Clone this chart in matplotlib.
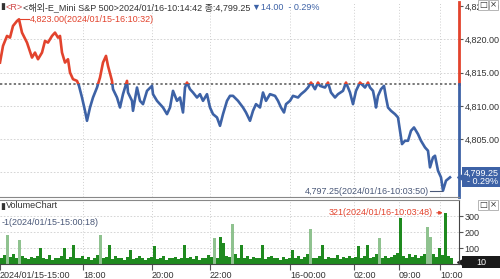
import numpy as np
import matplotlib
matplotlib.use('Agg')
import matplotlib.pyplot as plt
from matplotlib.patches import Rectangle

plt.rcParams['font.family'] = ['Liberation Sans Narrow', 'Liberation Sans', 'Noto Sans CJK KR', 'DejaVu Sans']

# Price ticks (bar index, price)
bar_idx = [0, 3, 7, 10, 13, 17, 19, 22, 27, 32, 35, 38, 42, 45, 48, 52, 55, 58, 60, 62,
           65, 68, 70, 73, 77, 79, 82, 85, 87, 90, 93, 97, 100, 103, 106, 108, 112, 113, 117, 120,
           123, 127, 128, 132, 133, 137, 140, 143, 147, 152, 153, 157, 160, 163, 167, 170, 173, 177, 180, 183,
           185, 187, 190, 193, 197, 200, 203, 207, 210, 213, 217, 220, 223, 227, 230, 233, 238, 243, 246, 250,
           253, 256, 260, 263, 266, 270, 275, 278, 281, 284, 286, 290, 293, 298, 301, 305, 308, 311, 315, 318,
           320, 325, 328, 331, 335, 338, 343, 346, 350, 353, 356, 360, 365, 368, 370, 373, 375, 376, 378, 381,
           384, 386, 388, 391, 395, 398, 401, 402, 405, 408, 411, 414, 418, 421, 425, 428, 430, 433, 435, 438,
           441, 443, 446, 450]
prices = [4816.50, 4819.00, 4820.50, 4820.25, 4822.00, 4822.75, 4823.00, 4821.00, 4819.50, 4817.25,
          4818.00, 4817.00, 4818.00, 4819.75, 4819.50, 4820.50, 4821.00, 4820.25, 4820.50, 4818.00,
          4816.50, 4817.00, 4815.00, 4814.00, 4813.75, 4813.00, 4811.25, 4809.25, 4807.75, 4809.75,
          4811.25, 4812.75, 4814.25, 4816.50, 4817.50, 4816.00, 4813.75, 4812.50, 4811.25, 4809.75,
          4811.75, 4813.75, 4812.00, 4810.75, 4809.25, 4812.75, 4810.75, 4810.25, 4812.25, 4813.00,
          4811.75, 4810.75, 4810.25, 4809.75, 4808.75, 4809.75, 4812.25, 4810.75, 4811.25, 4809.00,
          4812.75, 4813.50, 4812.50, 4812.00, 4811.25, 4811.75, 4810.75, 4811.75, 4809.75, 4808.75,
          4808.25, 4807.00, 4808.75, 4810.75, 4811.50, 4811.50, 4810.75, 4809.75, 4809.00, 4807.75,
          4809.25, 4810.25, 4809.75, 4812.00, 4810.75, 4811.75, 4811.50, 4810.75, 4809.75, 4809.00,
          4810.25, 4810.75, 4811.50, 4811.25, 4811.75, 4812.25, 4812.75, 4813.50, 4812.50, 4813.50,
          4813.00, 4812.75, 4813.50, 4812.00, 4811.25, 4811.75, 4812.25, 4813.50, 4812.00, 4810.25,
          4812.25, 4813.50, 4812.75, 4813.50, 4812.75, 4812.25, 4810.75, 4809.75, 4811.50, 4812.50,
          4813.00, 4811.25, 4809.75, 4809.25, 4808.75, 4808.25, 4805.25, 4804.25, 4804.75, 4804.75,
          4806.25, 4806.75, 4805.75, 4804.75, 4803.75, 4803.25, 4800.75, 4802.25, 4802.50, 4800.25,
          4799.25, 4797.25, 4798.75, 4799.25]
prev_close = 4813.25

# Volume (one bar every 3 ticks)
volume = [40, 55, 180, 45, 60, 35, 150, 50, 40, 30,
          45, 35, 50, 100, 40, 30, 55, 25, 40, 35,
          50, 100, 30, 45, 120, 40, 35, 50, 30, 45,
          25, 40, 55, 180, 35, 45, 120, 30, 50, 40,
          35, 25, 45, 90, 30, 40, 50, 35, 25, 40,
          45, 110, 30, 35, 50, 25, 40, 35, 45, 30,
          40, 120, 35, 45, 30, 50, 25, 40, 35, 55,
          45, 160, 40, 170, 130, 50, 45, 250, 60, 40,
          120, 35, 50, 30, 45, 40, 35, 120, 30, 45,
          50, 35, 40, 25, 45, 30, 40, 90, 35, 50,
          30, 45, 60, 220, 40, 35, 50, 120, 30, 45,
          40, 35, 55, 30, 45, 40, 50, 35, 45, 110,
          40, 50, 120, 35, 45, 60, 160, 40, 50, 35,
          45, 55, 70, 290, 50, 40, 60, 45, 55, 40,
          50, 65, 230, 170, 60, 45, 100, 55, 321, 50,
          40]
vol_light = [2, 6, 33, 71, 77, 103, 126, 142, 143]
vol_last = 10

time_pos = [0, 83, 152, 210, 290, 354, 399, 440]
time_lbl = ['2024/01/15-15:00', '18:00', '20:00', '22:00', '16-00:00', '02:00', '09:00', '10:00']
price_ticks = [4805, 4810, 4815, 4820, 4825]
vol_ticks = [100, 200, 300]

RED = '#e2432d'
BLUE = '#3d62a6'
GRID = '#cfcfcf'
TXT = '#333333'
FS = 6.5

W, H = 500, 279
fig = plt.figure(figsize=(W / 100, H / 100), dpi=100)
ax = fig.add_axes([0, 1 - 197 / H, 459 / W, 195 / H])
ax2 = fig.add_axes([0, 1 - 264 / H, 459 / W, 64 / H])

# ---- price panel
ax.set_xlim(0, 459)
ax.set_ylim(4796.3, 4825.6)
for p in [4800, 4805, 4810, 4815, 4820]:
    ax.axhline(p, color=GRID, lw=0.6, dashes=(2, 2), zorder=0)
for t in time_pos[1:]:
    ax.axvline(t, color=GRID, lw=0.7, dashes=(1, 2), zorder=0)
ax.axhline(prev_close, color='#555555', lw=1.1, dashes=(1.5, 1.5), zorder=1)

line_r, = ax.plot(bar_idx, prices, color=RED, lw=1.9, zorder=2)
line_b, = ax.plot(bar_idx, prices, color=BLUE, lw=1.9, zorder=2)
line_r.set_clip_path(Rectangle((-50, prev_close), 600, 100, transform=ax.transData))
line_b.set_clip_path(Rectangle((-50, prev_close - 100), 600, 100, transform=ax.transData))

for s in ['left', 'top', 'right']:
    ax.spines[s].set_visible(False)
ax.spines['bottom'].set_color('#888888')
yt = ax.get_yaxis_transform()
ax.plot([1, 1], [prev_close, 4825.6], color=RED, lw=2, transform=yt, clip_on=False)
ax.plot([1, 1], [4796.3, prev_close], color=BLUE, lw=2, transform=yt, clip_on=False)

ax.set_xticks([])
ax.yaxis.tick_right()
ax.set_yticks(price_ticks)
ax.set_yticklabels([f'{p:,.2f}' for p in price_ticks])
ax.tick_params(axis='y', direction='out', length=3, width=0.8, color='#555555',
               labelsize=FS, labelcolor=TXT, pad=1)

# max / min annotations
i_max = int(np.argmax(prices))
i_min = int(np.argmin(prices))
ax.plot([bar_idx[i_max] + 1, bar_idx[i_max] + 10], [prices[i_max]] * 2, color=RED, lw=0.8)
ax.text(bar_idx[i_max] + 11, prices[i_max], f'{prices[i_max]:,.2f}(2024/01/15-16:10:32)',
        color=RED, fontsize=FS, va='center', ha='left')
ax.plot([bar_idx[i_min] - 13, bar_idx[i_min] - 1], [prices[i_min]] * 2, color='#4a5878', lw=0.8)
ax.text(bar_idx[i_min] - 14, prices[i_min] - 0.1, f'{prices[i_min]:,.2f}(2024/01/16-10:03:50)',
        color='#4a5878', fontsize=FS, va='center', ha='right')

# current price tag
last = prices[-1]
ax.plot([1.004], [last], marker='<', ms=6, color=BLUE, transform=yt, clip_on=False)
ax.add_patch(Rectangle((1.007, last - 1.5), 0.09, 3.0, transform=yt, fc=BLUE, ec='none',
                       clip_on=False))
ax.text(1.048, last, f'{last:,.2f}\n- 0.29%', transform=yt, color='white', fontsize=FS,
        va='center', ha='center', multialignment='right', linespacing=0.95)

# ---- volume panel
x_vol = np.arange(len(volume)) * 3
colors = ['#8fc28f' if i in vol_light else '#1f8a1f' for i in range(len(volume))]
ax2.bar(x_vol, volume, width=3, color=colors, linewidth=0, align='edge', zorder=2)
ax2.set_xlim(0, 459)
ax2.set_ylim(0, 400)
for v in vol_ticks:
    ax2.axhline(v, color=GRID, lw=0.6, dashes=(2, 2), zorder=0)
for t in time_pos[1:]:
    ax2.axvline(t, color=GRID, lw=0.7, dashes=(1, 2), zorder=0)
ax2.spines['left'].set_visible(False)
ax2.spines['top'].set_color('#888888')
ax2.spines['right'].set_color('#444444')
ax2.spines['bottom'].set_color('#444444')
ax2.yaxis.tick_right()
ax2.set_yticks(vol_ticks)
ax2.tick_params(axis='y', direction='out', length=3, width=0.8, color='#555555',
                labelsize=FS, labelcolor=TXT, pad=1)
ax2.set_xticks(time_pos)
ax2.set_xticklabels(time_lbl, ha='left')
ax2.tick_params(axis='x', direction='out', length=4, width=0.8, color='#555555',
                labelsize=FS, labelcolor=TXT, pad=1)

j_max = int(np.argmax(volume))
ax2.annotate('', xy=(x_vol[j_max] + 1.5, 320), xytext=(x_vol[j_max] - 10, 320),
             arrowprops=dict(arrowstyle='-|>', color=RED, lw=0.8, mutation_scale=5))
ax2.text(x_vol[j_max] - 11, 320, f'{volume[j_max]}(2024/01/16-10:03:48)', color=RED,
         fontsize=FS, va='center', ha='right')
ax2.text(2, 262, '-1(2024/01/15-15:00:18)', color='#4a5878', fontsize=FS, va='center', ha='left')

yt2 = ax2.get_yaxis_transform()
ax2.plot([1.004], [vol_last], marker='<', ms=6, color='#1a1a1a', transform=yt2, clip_on=False)
ax2.add_patch(Rectangle((1.007, vol_last - 38), 0.09, 76, transform=yt2, fc='#1a1a1a',
                        ec='none', clip_on=False))
ax2.text(1.048, vol_last, f'{vol_last}', transform=yt2, color='white', fontsize=FS,
         va='center', ha='center')

# ---- header texts
def ftext(px, py, s, size=FS, **kw):
    return fig.text(px / W, 1 - py / H, s, va='center', ha='left', fontsize=size, **kw)

ftext(0, 7, '▮', color=TXT, family=['DejaVu Sans'])
ftext(6, 7, '<R>', color='#d04a4a')
ftext(23, 7, '<해외-E_Mini S&P 500>2024/01/16-10:14:42 종:4,799.25', color=TXT)
ftext(252, 7, '▼14.00  - 0.29%', color=BLUE)
ftext(0, 206, '▮', color=TXT, family=['DejaVu Sans'])
ftext(6, 206, 'VolumeChart', color=TXT)
for py in [5, 205]:
    for px, s in [(479, '□'), (490, '×')]:
        ftext(px, py, s, size=6, color=TXT, family=['DejaVu Sans'],
              bbox=dict(boxstyle='square,pad=0.1', fc='white', ec='#999999', lw=0.5))

fig.savefig('out.png', dpi=100)
